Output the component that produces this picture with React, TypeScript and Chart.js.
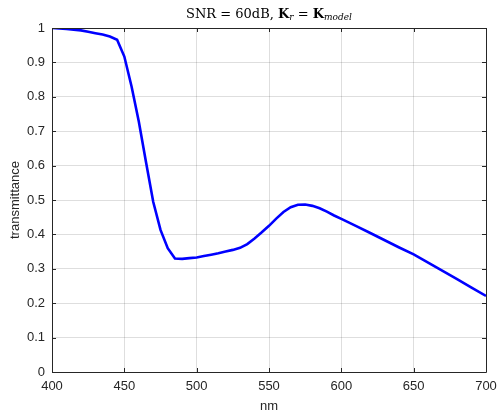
import React, { useEffect, useRef } from "react";
import { Chart, registerables } from "chart.js";

Chart.register(...registerables);

const wavelengths = [400, 405, 410, 415, 420, 425, 430, 435, 440, 445, 450, 455, 460, 465, 470, 475, 480, 485, 490, 495, 500, 505, 510, 515, 520, 525, 530, 535, 540, 545, 550, 555, 560, 565, 570, 575, 580, 585, 590, 595, 600, 605, 610, 620, 630, 640, 650, 660, 670, 680, 690, 700];
const transmittance = [1.0, 0.999, 0.997, 0.995, 0.993, 0.989, 0.985, 0.981, 0.975, 0.966, 0.917, 0.83, 0.728, 0.61, 0.494, 0.413, 0.36, 0.33, 0.329, 0.331, 0.333, 0.337, 0.341, 0.345, 0.35, 0.355, 0.361, 0.372, 0.388, 0.406, 0.425, 0.446, 0.465, 0.479, 0.486, 0.487, 0.483, 0.476, 0.466, 0.455, 0.445, 0.435, 0.425, 0.404, 0.383, 0.362, 0.342, 0.318, 0.294, 0.27, 0.245, 0.221];

const xTicks = [400, 450, 500, 550, 600, 650, 700];
const yTicks = [0, 0.1, 0.2, 0.3, 0.4, 0.5, 0.6, 0.7, 0.8, 0.9, 1];

const AXIS_COLOR = "#262626";
const SANS = "'Liberation Sans', Arial, sans-serif";
const SERIF = "'DejaVu Serif', 'Liberation Serif', serif";

const framePlugin = {
  id: "matlabFrame",
  afterDatasetsDraw(chart: any) {
    const { ctx, chartArea } = chart;
    const { left, right, top, bottom } = chartArea;
    const xs = chart.scales.x;
    const ys = chart.scales.y;
    ctx.save();
    ctx.strokeStyle = AXIS_COLOR;
    ctx.lineWidth = 1;
    ctx.beginPath();
    ctx.rect(Math.round(left) + 0.5, Math.round(top) + 0.5, Math.round(right - left), Math.round(bottom - top));
    ctx.stroke();
    const tl = 4;
    ctx.beginPath();
    for (const v of xTicks) {
      const px = Math.round(xs.getPixelForValue(v)) + 0.5;
      ctx.moveTo(px, bottom);
      ctx.lineTo(px, bottom - tl);
      ctx.moveTo(px, top);
      ctx.lineTo(px, top + tl);
    }
    for (const v of yTicks) {
      const py = Math.round(ys.getPixelForValue(v)) + 0.5;
      ctx.moveTo(left, py);
      ctx.lineTo(left + tl, py);
      ctx.moveTo(right, py);
      ctx.lineTo(right - tl, py);
    }
    ctx.stroke();

    // title with math-like formatting
    const cx = (left + right) / 2;
    const baseY = 18;
    const parts: { t: string; font: string; dy: number }[] = [
      { t: "SNR = 60dB, ", font: `13px ${SERIF}`, dy: 0 },
      { t: "K", font: `bold 13px ${SERIF}`, dy: 0 },
      { t: "r", font: `italic 9px ${SERIF}`, dy: 2 },
      { t: " = ", font: `13px ${SERIF}`, dy: 0 },
      { t: "K", font: `bold 13px ${SERIF}`, dy: 0 },
      { t: "model", font: `italic 9px ${SERIF}`, dy: 2 },
    ];
    let total = 0;
    for (const p of parts) {
      ctx.font = p.font;
      total += ctx.measureText(p.t).width;
    }
    let x = cx - total / 2;
    ctx.fillStyle = "#000";
    ctx.textBaseline = "alphabetic";
    ctx.textAlign = "left";
    for (const p of parts) {
      ctx.font = p.font;
      ctx.fillText(p.t, x, baseY + p.dy);
      x += ctx.measureText(p.t).width;
    }
    ctx.restore();
  },
};

export default function App() {
  const ref = useRef<HTMLCanvasElement>(null);
  useEffect(() => {
    if (!ref.current) return;
    const chart = new Chart(ref.current, {
      type: "line",
      data: {
        datasets: [
          {
            data: wavelengths.map((w, i) => ({ x: w, y: transmittance[i] })),
            borderColor: "#0000ff",
            borderWidth: 2.6,
            pointRadius: 0,
            tension: 0,
            fill: false,
          },
        ],
      },
      options: {
        animation: false,
        responsive: false,
        maintainAspectRatio: false,
        layout: { padding: { top: 28, right: 11, left: 0, bottom: 0 } },
        plugins: { legend: { display: false }, tooltip: { enabled: false }, title: { display: false } },
        scales: {
          x: {
            type: "linear",
            min: 400,
            max: 700,
            afterBuildTicks: (s: any) => {
              s.ticks = xTicks.map((v) => ({ value: v }));
            },
            afterFit: (s: any) => {
              s.height = 42;
              s.paddingLeft = 0;
              s.paddingRight = 0;
            },
            grid: { color: "rgba(0,0,0,0.13)", drawTicks: false, drawOnChartArea: true },
            border: { display: false },
            ticks: {
              color: AXIS_COLOR,
              font: { family: SANS, size: 13 },
              padding: 7,
              maxRotation: 0,
              callback: (v: any) => String(v),
            },
            title: {
              display: true,
              text: "nm",
              color: AXIS_COLOR,
              font: { family: SANS, size: 13 },
              padding: { top: 1, bottom: 0 },
            },
          },
          y: {
            type: "linear",
            min: 0,
            max: 1,
            afterBuildTicks: (s: any) => {
              s.ticks = yTicks.map((v) => ({ value: v }));
            },
            afterFit: (s: any) => {
              s.width = 52;
              s.paddingTop = 0;
              s.paddingBottom = 0;
            },
            grid: { color: "rgba(0,0,0,0.13)", drawTicks: false },
            border: { display: false },
            ticks: {
              color: AXIS_COLOR,
              font: { family: SANS, size: 13 },
              padding: 7,
              callback: (v: any) => String(Math.round(v * 10) / 10),
            },
            title: {
              display: true,
              text: "transmittance",
              color: AXIS_COLOR,
              font: { family: SANS, size: 13 },
              padding: { top: 8, bottom: 0 },
            },
          },
        },
      },
      plugins: [framePlugin],
    });
    return () => chart.destroy();
  }, []);
  return (
    <div style={{ position: "absolute", left: 0, top: 0, width: 497, height: 414, background: "#fff" }}>
      <canvas ref={ref} width={497} height={414} />
    </div>
  );
}
